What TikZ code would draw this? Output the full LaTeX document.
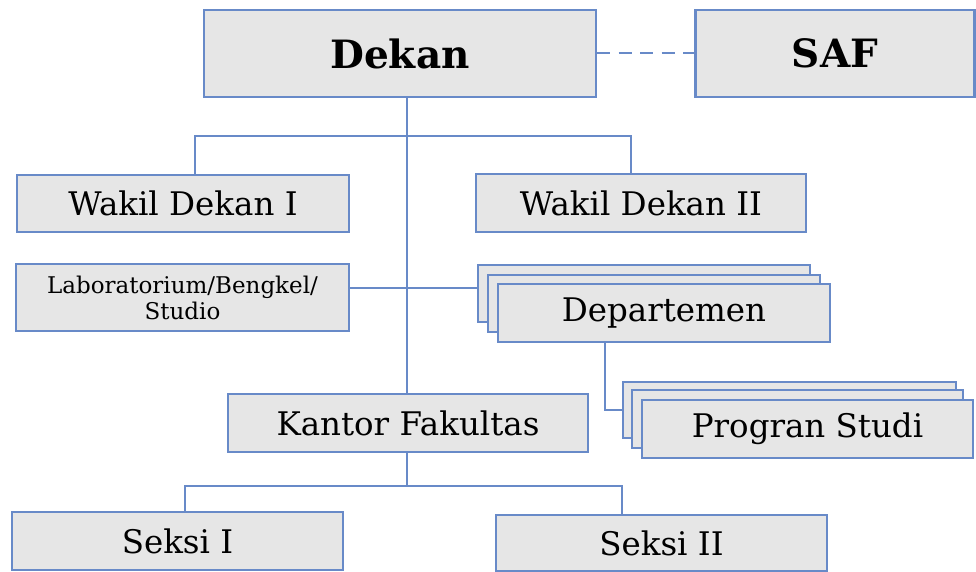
\documentclass[tikz,border=0pt]{standalone}
\usepackage{fontspec}
\setmainfont{DejaVu Serif}
\definecolor{bblue}{RGB}{104,138,200}
\definecolor{boxgray}{RGB}{230,230,230}
\begin{document}
\begin{tikzpicture}[x=1pt,y=-1pt,
  box/.style={draw=bblue,fill=boxgray,line width=2.4pt,inner sep=0pt,align=center},
  conn/.style={draw=bblue,line width=2.6pt},
  big/.style={font=\fontsize{32.5}{36}\selectfont},
  small/.style={font=\fontsize{23}{26}\selectfont}]
\useasboundingbox (0,0) rectangle (976,572);
\node[box,minimum width=392pt,minimum height=87pt,font=\fontsize{39}{42}\selectfont\bfseries] (dekan) at (400,53.5) {Dekan};
\node[box,minimum width=279pt,minimum height=87pt,font=\fontsize{39}{42}\selectfont\bfseries] (saf) at (835,53.5) {SAF};
\node[box,big,minimum width=332pt,minimum height=57pt] (wd1) at (183,203.5) {Wakil Dekan I};
\node[box,big,minimum width=330pt,minimum height=58pt] (wd2) at (641,203) {Wakil Dekan II};
\node[box,small,minimum width=333pt,minimum height=67pt] (lab) at (182.5,297.5) {Laboratorium/Bengkel/\\Studio};
\node[box,minimum width=332pt,minimum height=57pt] (dep3) at (644,293.5) {};
\node[box,minimum width=332pt,minimum height=57pt] (dep2) at (654,303.5) {};
\node[box,big,minimum width=332pt,minimum height=58pt] (dep) at (664,313) {Departemen};
\node[box,minimum width=333pt,minimum height=56pt] (ps3) at (789.5,410) {};
\node[box,minimum width=331pt,minimum height=58pt] (ps2) at (797.5,419) {};
\node[box,big,minimum width=331pt,minimum height=58pt] (ps) at (807.5,429) {Progran Studi};
\node[box,big,minimum width=360pt,minimum height=58pt] (kantor) at (408,423) {Kantor Fakultas};
\node[box,big,minimum width=331pt,minimum height=58pt] (s1) at (177.5,541) {Seksi I};
\node[box,big,minimum width=331pt,minimum height=56pt] (s2) at (661.5,543) {Seksi II};
\coordinate (top) at (407,136);
\coordinate (bot) at (407,486);
% connectors
\draw[conn,dash pattern=on 13pt off 8.5pt] (dekan.east |- 0,53) -- (saf.west |- 0,53);
\draw[conn] (dekan.south -| top) -- (kantor.north -| top);
\draw[conn] (wd1.north -| 195,0) |- (top) -| (wd2.north -| 631,0);
\draw[conn] (lab.east |- 0,288) -- (dep3.west |- 0,288);
\draw[conn] (dep.south -| 605,0) |- (ps3.west |- 0,410);
\draw[conn] (kantor.south -| bot) -- (bot);
\draw[conn] (s1.north -| 185,0) |- (bot) -| (s2.north -| 622,0);
\end{tikzpicture}
\end{document}
